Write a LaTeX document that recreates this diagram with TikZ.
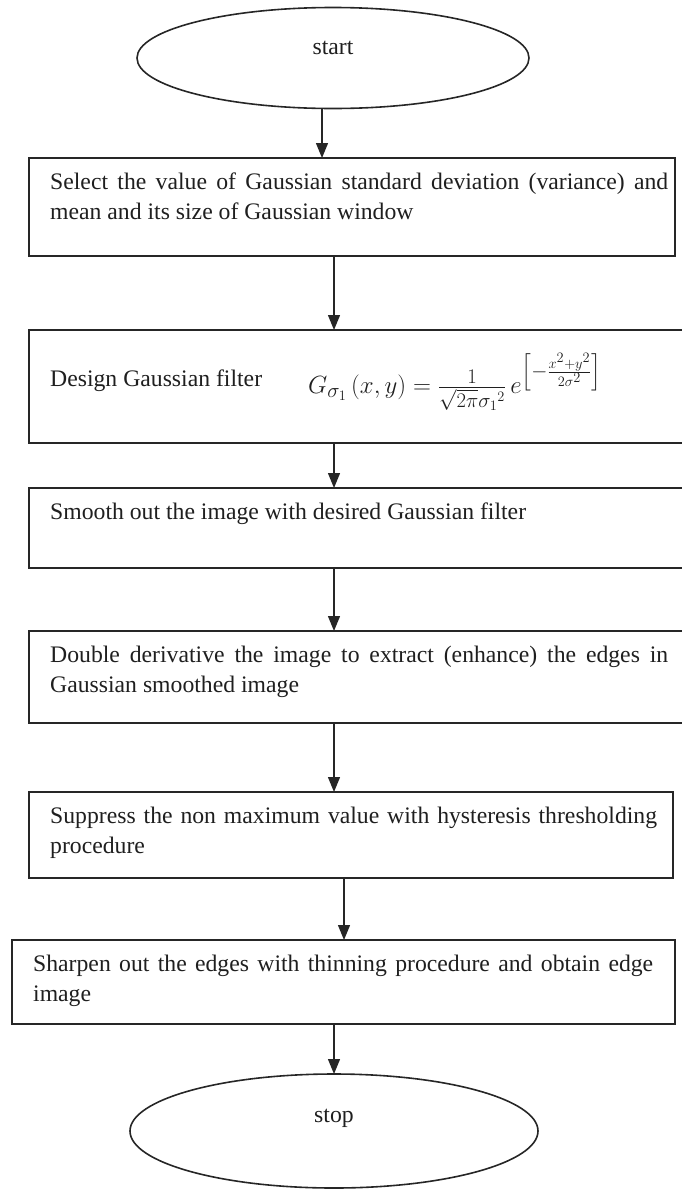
\documentclass[tikz,border=0pt]{standalone}
\usepackage{fontspec}
\setmainfont{Liberation Serif}
\usepackage{amsmath}
\usetikzlibrary{shapes.geometric,arrows.meta}
\hyphenpenalty=10000
\exhyphenpenalty=10000
\tolerance=9999
\emergencystretch=20pt
\begin{document}
\begin{tikzpicture}[x=1pt,y=-1pt,
  boxst/.style={draw=black!85, line width=1.8pt, rectangle, inner sep=0pt, outer sep=0pt, anchor=north west},
  ellst/.style={draw=black!85, line width=1.6pt, ellipse, inner sep=0pt, outer sep=0pt},
  txt/.style={anchor=north west, inner sep=0pt, align=justify, text=black!88,
    font=\fontsize{23.7}{29.5}\selectfont},
  lbl/.style={inner sep=0pt, text=black!88, font=\fontsize{23.7}{29.5}\selectfont},
  arr/.style={draw=black!85, line width=1.3pt, -{Triangle[width=12pt,length=15pt]}}]
\useasboundingbox (0,0) rectangle (681,1189);
% start
\node[ellst, minimum width=392pt, minimum height=101pt] (start) at (333,58) {};
\node[lbl] (startlbl) at ([yshift=10pt]start.center) {start};
% boxes
\node[boxst, minimum width=646pt, minimum height=98pt] (b1) at (29,158) {};
\node[boxst, minimum width=662pt, minimum height=113pt] (b2) at (29,330) {};
\node[boxst, minimum width=662pt, minimum height=80pt] (b3) at (29,488) {};
\node[boxst, minimum width=662pt, minimum height=92pt] (b4) at (29,631) {};
\node[boxst, minimum width=644pt, minimum height=86pt] (b5) at (29,792) {};
\node[boxst, minimum width=663pt, minimum height=84pt] (b6) at (12,940) {};
% stop
\node[ellst, minimum width=408pt, minimum height=114pt] (stop) at (334,1131) {};
\node[lbl] (stoplbl) at ([yshift=13pt]stop.center) {stop};
% texts
\node[txt, text width=618pt] (t1) at (50,173) {Select the value of Gaussian standard deviation (variance) and mean and its size of Gaussian window};
\node[lbl, anchor=base west] (t2) at (50,386) {Design Gaussian filter};
\node[lbl, anchor=west, font=\fontsize{29}{32}\selectfont] (f2) at (308,382) {$G_{\sigma_1}\,(x,y) = \frac{1}{\sqrt{2\pi}\sigma_1{}^2}\,e^{\left[-\frac{x^2+y^2}{2\sigma^2}\right]}$};
\node[txt, text width=618pt] (t3) at (50,503) {Smooth out the image with desired Gaussian filter};
\node[txt, text width=618pt] (t4) at (50,646) {Double derivative the image to extract (enhance) the edges in Gaussian smoothed image};
\node[txt, text width=616pt, align=left] (t5) at (50,807) {Suppress the non maximum value with hysteresis thresholding procedure};
\node[txt, text width=620pt] (t6) at (33,955) {Sharpen out the edges with thinning procedure and obtain edge image};
% connector x positions
\coordinate (xa) at (322,0);
\coordinate (xb) at (334,0);
\coordinate (xc) at (344,0);
% connectors
\draw[arr] (start.south -| xa) -- (b1.north -| xa);
\draw[arr] (b1.south -| xb) -- (b2.north -| xb);
\draw[arr] (b2.south -| xb) -- (b3.north -| xb);
\draw[arr] (b3.south -| xb) -- (b4.north -| xb);
\draw[arr] (b4.south -| xb) -- (b5.north -| xb);
\draw[arr] (b5.south -| xc) -- (b6.north -| xc);
\draw[arr] (b6.south -| xb) -- (stop.north -| xb);
\end{tikzpicture}
\end{document}
